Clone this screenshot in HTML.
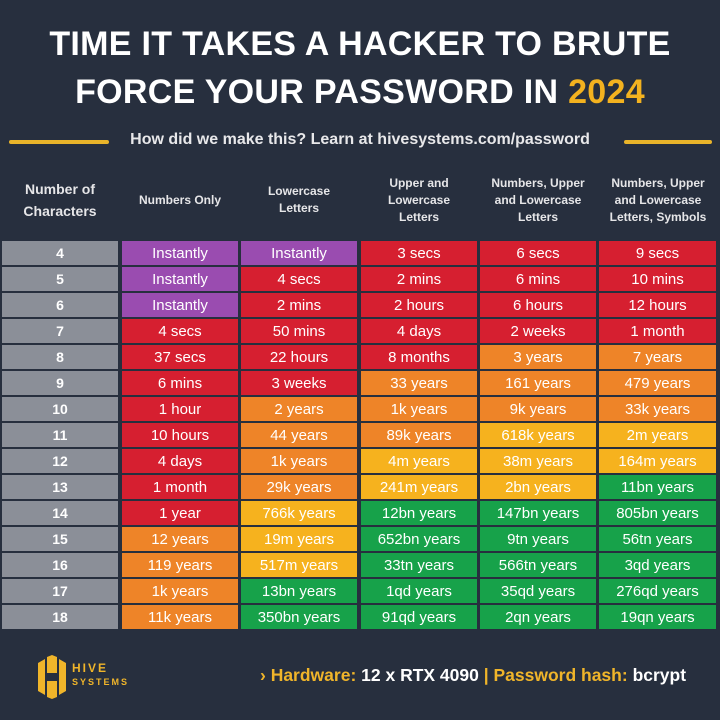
<!DOCTYPE html>
<html><head><style>
*{margin:0;padding:0;box-sizing:border-box}
body{width:720px;height:720px;background:#272f3e;font-family:"Liberation Sans",sans-serif;position:relative;overflow:hidden;color:#fff}
.t{position:absolute;left:0;width:720px;text-align:center;font-weight:bold;font-size:34px;letter-spacing:0.3px}
.sub{position:absolute;top:131px;left:0;width:720px;text-align:center;font-weight:bold;font-size:16px;color:#e8e8ea}
.line{position:absolute;top:140px;height:4px;background:#e9b42a;border-radius:2px}
.h{position:absolute;top:170px;height:60px;display:flex;align-items:center;justify-content:center;text-align:center;font-weight:bold;font-size:12px;line-height:17px;color:#e6e6e8}
.c{position:absolute;height:24px;line-height:26px;text-align:center;font-size:15px;color:#fff;overflow:hidden}
.P{background:#9a4cb0}.R{background:#d61f30}.O{background:#ee8428}.Y{background:#f6b21e}.G{background:#17a24a}.N{background:#8b8f98;font-weight:bold;font-size:14px;line-height:24px}
.foot{position:absolute;top:665px;left:260px;font-weight:bold;font-size:17.5px;color:#f0b52a}
.foot b{color:#fff}
</style></head><body>
<div class="t" style="top:25px">TIME IT TAKES A HACKER TO BRUTE</div>
<div class="t" style="top:73px">FORCE YOUR PASSWORD IN <span style="color:#f3b21f">2024</span></div>
<div class="line" style="left:9px;width:100px"></div>
<div class="line" style="left:624px;width:88px"></div>
<div class="sub">How did we make this? Learn at hivesystems.com/password</div>
<div class="h" style="left:0;width:120px;font-size:14px;line-height:22px">Number of<br>Characters</div>
<div class="h" style="left:122px;width:116px">Numbers Only</div>
<div class="h" style="left:241px;width:116px">Lowercase<br>Letters</div>
<div class="h" style="left:361px;width:116px">Upper and<br>Lowercase<br>Letters</div>
<div class="h" style="left:480px;width:116px">Numbers, Upper<br>and Lowercase<br>Letters</div>
<div class="h" style="left:599px;width:118px">Numbers, Upper<br>and Lowercase<br>Letters, Symbols</div>
<div id="g"></div>
<svg style="position:absolute;left:36px;top:655px" width="32" height="44" viewBox="0 0 32 44"><path d="M2 8 L9 4 V40 L2 36Z M23 4 L30 8 V36 L23 40Z M11 2 L16 0 L21 2 V18 H11Z M11 26 H21 V42 L16 44 L11 42Z" fill="#f0b52a"/></svg>
<div style="position:absolute;left:72px;top:662px;font-weight:bold;font-size:12px;color:#f0b52a;letter-spacing:2px;line-height:13px">HIVE<br><span style="font-size:9px">SYSTEMS</span></div>
<div class="foot">› Hardware: <b>12 x RTX 4090</b> | Password hash: <b>bcrypt</b></div>
<script>
var d=[
["4","PPRRR",["Instantly","Instantly","3 secs","6 secs","9 secs"]],
["5","PRRRR",["Instantly","4 secs","2 mins","6 mins","10 mins"]],
["6","PRRRR",["Instantly","2 mins","2 hours","6 hours","12 hours"]],
["7","RRRRR",["4 secs","50 mins","4 days","2 weeks","1 month"]],
["8","RRROO",["37 secs","22 hours","8 months","3 years","7 years"]],
["9","RROOO",["6 mins","3 weeks","33 years","161 years","479 years"]],
["10","ROOOO",["1 hour","2 years","1k years","9k years","33k years"]],
["11","ROOYY",["10 hours","44 years","89k years","618k years","2m years"]],
["12","ROYYY",["4 days","1k years","4m years","38m years","164m years"]],
["13","ROYYG",["1 month","29k years","241m years","2bn years","11bn years"]],
["14","RYGGG",["1 year","766k years","12bn years","147bn years","805bn years"]],
["15","OYGGG",["12 years","19m years","652bn years","9tn years","56tn years"]],
["16","OYGGG",["119 years","517m years","33tn years","566tn years","3qd years"]],
["17","OGGGG",["1k years","13bn years","1qd years","35qd years","276qd years"]],
["18","OGGGG",["11k years","350bn years","91qd years","2qn years","19qn years"]]];
var xs=[[2,116],[122,116],[241,116],[361,116],[480,116],[599,117]],h="";
d.forEach(function(r,i){var y=241+i*26;
h+='<div class="c N" style="left:2px;width:116px;top:'+y+'px">'+r[0]+'</div>';
for(var j=0;j<5;j++)h+='<div class="c '+r[1][j]+'" style="left:'+xs[j+1][0]+'px;width:'+xs[j+1][1]+'px;top:'+y+'px">'+r[2][j]+'</div>';});
document.getElementById('g').innerHTML=h;
</script>
</body></html>
